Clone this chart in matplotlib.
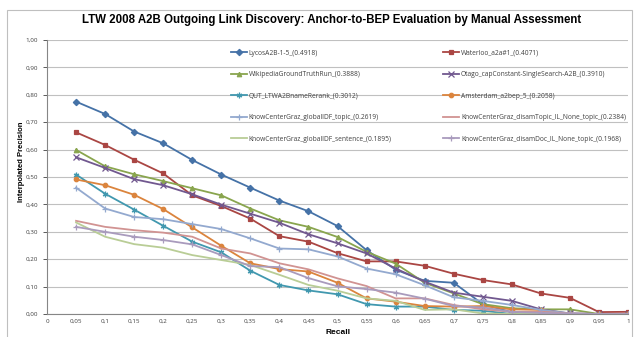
import matplotlib.pyplot as plt
from matplotlib.patches import Rectangle
from matplotlib.ticker import FuncFormatter

recall = [0.05, 0.1, 0.15, 0.2, 0.25, 0.3, 0.35, 0.4, 0.45, 0.5,
          0.55, 0.6, 0.65, 0.7, 0.75, 0.8, 0.85, 0.9, 0.95, 1.0]

lycos = [0.775, 0.730, 0.666, 0.623, 0.562, 0.509, 0.461, 0.414, 0.375, 0.321,
         0.233, 0.162, 0.121, 0.114, 0.036, 0.006, 0.008, 0.0, 0.0, 0.0]
waterloo = [0.663, 0.617, 0.563, 0.513, 0.433, 0.394, 0.348, 0.284, 0.264, 0.222,
            0.192, 0.192, 0.176, 0.147, 0.124, 0.108, 0.075, 0.059, 0.007, 0.008]
wikipedia = [0.599, 0.539, 0.510, 0.485, 0.459, 0.433, 0.385, 0.342, 0.318, 0.281,
             0.227, 0.184, 0.114, 0.075, 0.036, 0.021, 0.017, 0.017, 0.0, 0.0]
otago = [0.572, 0.533, 0.492, 0.470, 0.437, 0.399, 0.366, 0.333, 0.291, 0.258,
         0.221, 0.166, 0.118, 0.078, 0.063, 0.048, 0.017, 0.002, 0.0, 0.0]
qut = [0.509, 0.439, 0.381, 0.322, 0.264, 0.225, 0.158, 0.106, 0.086, 0.072,
       0.036, 0.027, 0.027, 0.015, 0.012, 0.0, 0.0, 0.0, 0.0, 0.0]
amsterdam = [0.491, 0.470, 0.435, 0.383, 0.316, 0.249, 0.185, 0.164, 0.155, 0.114,
             0.057, 0.045, 0.029, 0.027, 0.029, 0.017, 0.015, 0.0, 0.0, 0.0]
kc_gidf_topic = [0.461, 0.385, 0.354, 0.346, 0.328, 0.310, 0.276, 0.239, 0.236, 0.210,
                 0.166, 0.145, 0.105, 0.061, 0.048, 0.033, 0.015, 0.002, 0.0, 0.0]
kc_disam_topic = [0.340, 0.318, 0.306, 0.297, 0.282, 0.239, 0.221, 0.185, 0.163, 0.130,
                  0.102, 0.057, 0.057, 0.033, 0.017, 0.008, 0.008, 0.002, 0.0, 0.0]
kc_gidf_sentence = [0.334, 0.282, 0.255, 0.242, 0.215, 0.197, 0.179, 0.143, 0.106, 0.085,
                    0.057, 0.048, 0.015, 0.017, 0.002, 0.0, 0.0, 0.0, 0.0, 0.0]
kc_disam_doc = [0.318, 0.300, 0.282, 0.270, 0.254, 0.215, 0.175, 0.171, 0.131, 0.101,
                0.091, 0.078, 0.056, 0.029, 0.024, 0.008, 0.004, 0.002, 0.0, 0.0]

series = [
    ("LycosA2B-1-5_(0.4918)", lycos, "#4572A7", "D"),
    ("Waterloo_a2a#1_(0.4071)", waterloo, "#AA4643", "s"),
    ("WikipediaGroundTruthRun_(0.3888)", wikipedia, "#89A54E", "^"),
    ("Otago_capConstant-SingleSearch-A2B_(0.3910)", otago, "#71588F", "x"),
    ("QUT_LTWA2BnameRerank_(0.3012)", qut, "#4198AF", (6, 2, 0)),
    ("Amsterdam_a2bep_5_(0.2058)", amsterdam, "#DB843D", "o"),
    ("KnowCenterGraz_globalIDF_topic_(0.2619)", kc_gidf_topic, "#93A9CF", "+"),
    ("KnowCenterGraz_disamTopic_IL_None_topic_(0.2384)", kc_disam_topic, "#D19392", None),
    ("KnowCenterGraz_globalIDF_sentence_(0.1895)", kc_gidf_sentence, "#B9CD96", None),
    ("KnowCenterGraz_disamDoc_IL_None_topic_(0.1968)", kc_disam_doc, "#A99BBD", "+"),
]

plt.rcParams['font.family'] = ['Open Sans', 'DejaVu Sans']

fig = plt.figure(figsize=(6.37, 3.37), dpi=100)
fig.patches.append(Rectangle((7 / 637, -0.01), 625 / 637, 1 - 10 / 337 + 0.01,
                             transform=fig.transFigure, fill=False,
                             edgecolor="#BFBFBF", linewidth=0.8))
ax = fig.add_axes([47 / 637, 23 / 337, 581 / 637, 274 / 337])

for name, vals, color, marker in series:
    ms = 3.2 if marker in ("D", "s", "o", "^") else 4
    ax.plot(recall, vals, color=color, lw=1.3, marker=marker, markersize=ms,
            markeredgewidth=0.9, label=name)

ax.set_xlim(0, 1)
ax.set_ylim(0, 1)
ax.set_xticks([i * 0.05 for i in range(21)])
ax.set_yticks([i * 0.1 for i in range(11)])
ax.xaxis.set_major_formatter(FuncFormatter(lambda v, p: ("%g" % round(v, 2)).replace(".", ",")))
ax.yaxis.set_major_formatter(FuncFormatter(lambda v, p: ("%.2f" % v).replace(".", ",")))
ax.tick_params(labelsize=4.5, colors="#404040", length=3, width=0.6)
ax.tick_params(axis="x", length=0)
ax.grid(axis="y", color="#C0C0C0", lw=0.8)
ax.set_axisbelow(True)
for s in ("top", "right"):
    ax.spines[s].set_visible(False)
for s in ("left", "bottom"):
    ax.spines[s].set_color("#868686")
    ax.spines[s].set_linewidth(0.8)

fig.text(0.52, 0.94, "LTW 2008 A2B Outgoing Link Discovery: Anchor-to-BEP Evaluation by Manual Assessment",
         ha="center", va="center", fontsize=8.3, fontweight="bold", family="Liberation Sans")
fig.text(22 / 637, 0.52, "Interpolated Precision", rotation=90, ha="center", va="center",
         fontsize=5.5, fontweight="bold", family="Liberation Sans")
fig.text(0.53, 1 / 337, "Recall", ha="center", va="bottom", fontsize=6,
         fontweight="bold", family="Liberation Sans")

# legend is filled row by row in the reference
handles, labels = ax.get_legend_handles_labels()
order = [0, 2, 4, 6, 8, 1, 3, 5, 7, 9]
ax.legend([handles[i] for i in order], [labels[i] for i in order],
          loc="upper left", bbox_to_anchor=(228 / 637, 1 - 47 / 337),
          bbox_transform=fig.transFigure, ncol=2, frameon=False, fontsize=4.8,
          handlelength=2.4, handletextpad=0.3, columnspacing=7.7, labelspacing=2.18,
          borderaxespad=0, labelcolor="#404040")

fig.savefig("out.png", dpi=100)
